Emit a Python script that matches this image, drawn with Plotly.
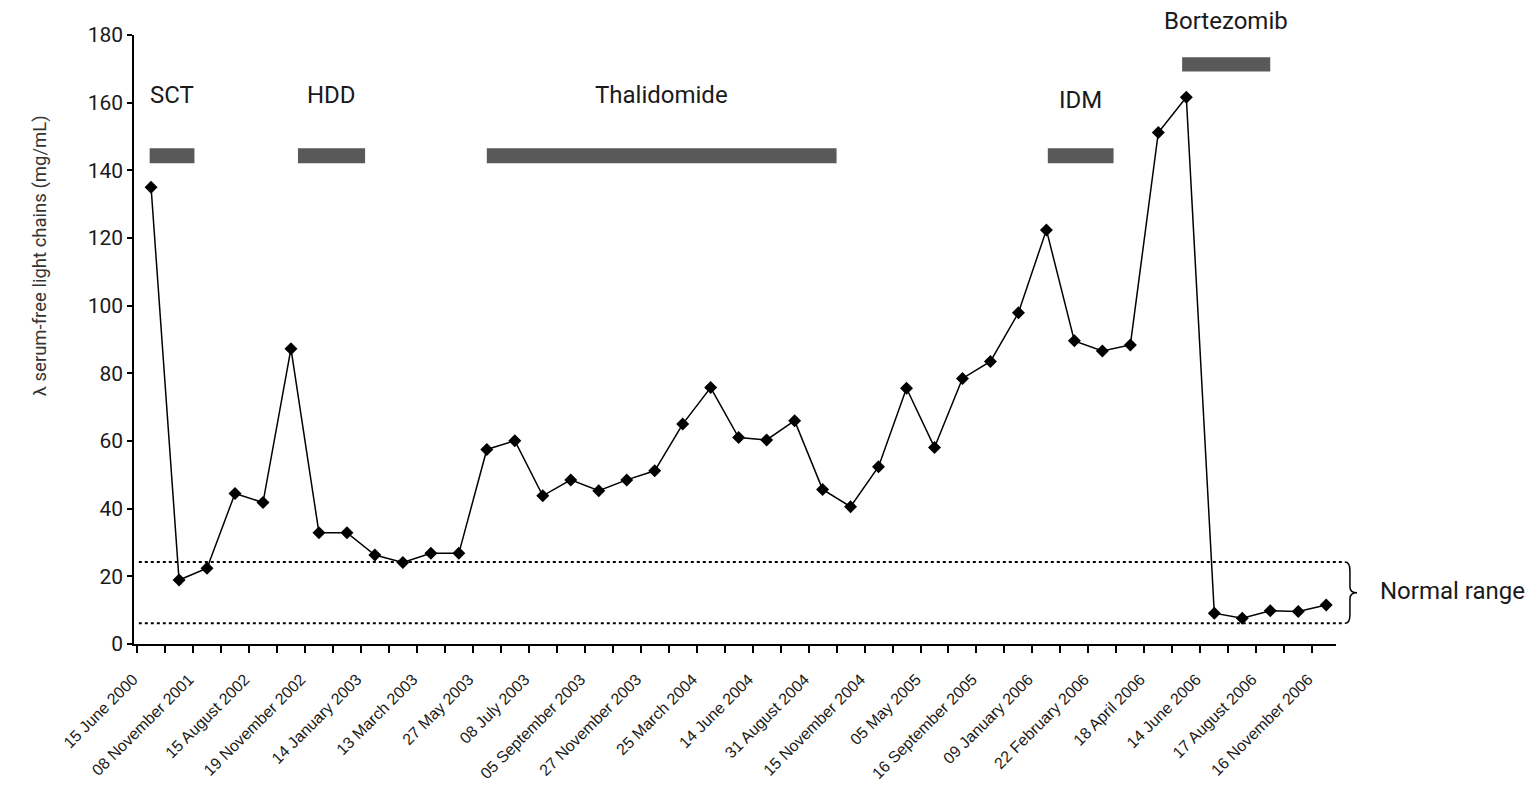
import plotly.graph_objects as go

# ---- data ----
date_labels = [
    "15 June 2000", "08 November 2001", "15 August 2002", "19 November 2002",
    "14 January 2003", "13 March 2003", "27 May 2003", "08 July 2003",
    "05 September 2003", "27 November 2003", "25 March 2004", "14 June 2004",
    "31 August 2004", "15 November 2004", "05 May 2005", "16 September 2005",
    "09 January 2006", "22 February 2006", "18 April 2006", "14 June 2006",
    "17 August 2006", "16 November 2006",
]
flc_values = [
    135.0, 18.9, 22.4, 44.5, 41.8, 87.3, 32.9, 32.9, 26.3, 24.1, 26.8, 26.8,
    57.5, 60.1, 43.8, 48.5, 45.3, 48.5, 51.2, 65.0, 75.8, 61.0, 60.3, 66.0,
    45.7, 40.6, 52.4, 75.6, 58.1, 78.5, 83.5, 97.9, 122.4, 89.6, 86.6, 88.4,
    151.2, 161.6, 9.1, 7.6, 9.8, 9.6, 11.5,
]
treatment_names = ["SCT", "HDD", "Thalidomide", "IDM", "Bortezomib"]
treatment_start = [-0.05, 5.25, 12.0, 32.05, 36.85]
treatment_end = [1.55, 7.65, 24.5, 34.4, 40.0]
treatment_low = [142.1, 142.1, 142.1, 142.1, 169.2]
treatment_high = [146.5, 146.5, 146.5, 146.5, 173.4]
treatment_label_y = [162.3, 162.3, 162.3, 160.8, 184.2]
normal_low = 6.1
normal_high = 24.2
y_ticks = [0, 20, 40, 60, 80, 100, 120, 140, 160, 180]
Y_MAX = 180
y_title = "λ serum-free light chains (mg/mL)"

FONT = "Roboto, Liberation Sans, Arial, sans-serif"
TXT = "#1a1a1a"

x_idx = list(range(len(flc_values)))
tick_pos = x_idx[::2]

fig = go.Figure()
fig.add_trace(go.Scatter(
    x=x_idx, y=flc_values, mode="lines+markers",
    line=dict(color="black", width=1.5),
    marker=dict(symbol="diamond", size=10, color="black"),
    hoverinfo="y", showlegend=False,
))

# treatment bars and labels
for name, s, e, lo, hi, ly in zip(treatment_names, treatment_start, treatment_end,
                                  treatment_low, treatment_high, treatment_label_y):
    fig.add_shape(type="rect", xref="x", yref="y", x0=s, x1=e, y0=lo, y1=hi,
                  fillcolor="#595959", line=dict(width=0), layer="above")
    fig.add_annotation(x=(s + e) / 2, y=ly / Y_MAX, xref="x", yref="paper", text=name,
                       showarrow=False, xanchor="center", yanchor="middle",
                       font=dict(family=FONT, size=24, color=TXT))

# normal range lines + brace (x in paper units, y in data units)
x_end = 1.0075
for yv in (normal_low, normal_high):
    fig.add_shape(type="line", xref="paper", yref="y", x0=0.004, x1=x_end,
                  y0=yv, y1=yv, line=dict(color="black", width=2, dash="dot"))
mid = (normal_low + normal_high) / 2
xv = 1.0116
xt = 1.0175
brace = (f"M {x_end},{normal_high} Q {xv},{normal_high} {xv},{normal_high - 2.6} "
         f"L {xv},{mid + 1.8} Q {xv},{mid} {xt},{mid} Q {xv},{mid} {xv},{mid - 1.8} "
         f"L {xv},{normal_low + 2.6} Q {xv},{normal_low} {x_end},{normal_low}")
fig.add_shape(type="path", xref="paper", yref="y", path=brace,
              line=dict(color="black", width=1.5))
fig.add_annotation(x=1.035, y=mid + 0.6, xref="paper", yref="y", text="Normal range",
                   showarrow=False, xanchor="left", yanchor="middle",
                   font=dict(family=FONT, size=24, color=TXT))

# y-axis title (placed like the original, above the axis centre)
fig.add_annotation(x=-0.078, y=0.637, xref="paper", yref="paper", text=y_title,
                   textangle=-90, showarrow=False, xanchor="center", yanchor="middle",
                   font=dict(family=FONT, size=18.5, color="#333333"))

fig.update_xaxes(
    range=[-0.61, len(flc_values) - 0.65],
    tickmode="array", tickvals=tick_pos, ticktext=date_labels,
    tickangle=-45, ticks="", showgrid=False, zeroline=False,
    showline=True, linecolor="black", linewidth=1.5,
    ticklabelshift=-18, ticklabelstandoff=18,
    tickfont=dict(family="Liberation Sans, Arial, sans-serif", size=16, color=TXT),
    minor=dict(ticks="outside", tickmode="linear", tick0=-0.5, dtick=1,
               ticklen=7, tickwidth=1.5, tickcolor="black", showgrid=False),
)
fig.update_yaxes(
    range=[0, Y_MAX], tickmode="array", tickvals=y_ticks,
    ticks="outside", ticklen=5, tickwidth=1.5, tickcolor="black",
    showline=True, linecolor="black", linewidth=1.5,
    showgrid=False, zeroline=False,
    tickfont=dict(family=FONT, size=21, color=TXT),
)
fig.update_layout(
    width=1532, height=785,
    margin=dict(l=134, r=196, t=35, b=141, autoexpand=False),
    plot_bgcolor="white", paper_bgcolor="white",
    showlegend=False,
)
fig.write_html("out.html", config={"displayModeBar": False},
               post_script="document.body.style.margin='0';document.body.style.overflow='hidden';")
